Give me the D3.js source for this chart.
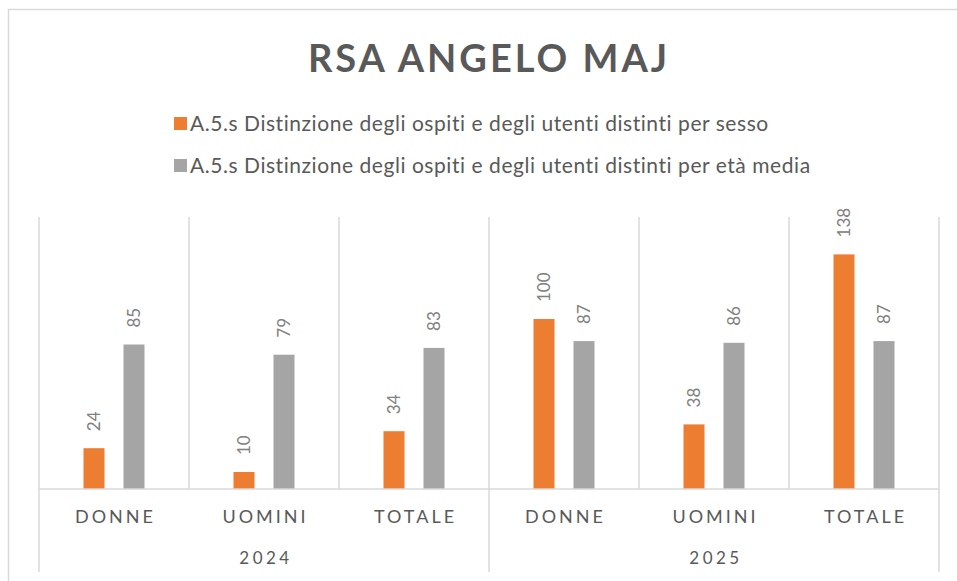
<!DOCTYPE html>
<html>
<head>
<meta charset="utf-8">
<script src="https://cdn.jsdelivr.net/npm/d3@7"></script>
<style>
  body { margin: 0; background: #fff; }
  svg { display: block; font-family: Lato, "Open Sans", sans-serif; }
</style>
</head>
<body>
<svg id="chart" width="957" height="581"></svg>
<script>
(() => {

    // chart data
    const years = ['2024', '2025'];
    const groups = ['DONNE', 'UOMINI', 'TOTALE'];
    const series = [
        'A.5.s Distinzione degli ospiti e degli utenti distinti per sesso',
        'A.5.s Distinzione degli ospiti e degli utenti distinti per età media'
    ];
    const sesso_values = [24, 10, 34, 100, 38, 138];
    const eta_values = [85, 79, 83, 87, 86, 87];
    const colors = ['#ED7D31', '#A5A5A5'];

    // layout
    const plot_left = 39;
    const plot_right = 939;
    const plot_top = 217;
    const plot_bottom = 489;
    const text_color = '#595959';
    const grid_color = '#D9D9D9';

    let svg = d3.select('#chart');

    // build rows
    let rows = [];
    years.forEach((y, yi) => {
        groups.forEach((g, gi) => {
            let i = yi * groups.length + gi;
            rows.push({ key: y + '-' + g, year: y, group: g, values: [sesso_values[i], eta_values[i]] });
        });
    });

    // outer frame
    svg.append('rect')
        .attr('x', 8.5).attr('y', 9.5)
        .attr('width', 960).attr('height', 600)
        .attr('fill', 'none')
        .attr('stroke', grid_color)
        .attr('stroke-width', 1.5);

    // title
    svg.append('text')
        .attr('x', 489)
        .attr('y', 72)
        .attr('text-anchor', 'middle')
        .style('font-size', '38px')
        .style('font-weight', 'bold')
        .style('letter-spacing', '3px')
        .style('fill', text_color)
        .text('RSA ANGELO MAJ');

    // legend
    let legend = svg.append('g');
    series.forEach((s, i) => {
        let ly = 131 + i * 42;
        legend.append('rect')
            .attr('x', 174).attr('y', ly - 14)
            .attr('width', 13).attr('height', 13)
            .attr('fill', colors[i]);
        legend.append('text')
            .attr('x', 190).attr('y', ly)
            .style('font-size', '21px')
            .style('letter-spacing', '0.55px')
            .style('fill', text_color)
            .text(s);
    });

    // scales
    let x0 = d3.scaleBand()
        .domain(rows.map((d) => d.key))
        .range([plot_left, plot_right])
        .padding(0);

    let x1 = d3.scaleBand()
        .domain([0, 1])
        .range([0, x0.bandwidth()])
        .paddingInner(0.475)
        .paddingOuter(1.1125);

    let y = d3.scaleLinear()
        .domain([0, 160])
        .range([plot_bottom, plot_top]);

    // vertical category lines
    let boundaries = rows.map((d) => x0(d.key)).concat([plot_right]);
    svg.append('g')
        .selectAll('line')
        .data(boundaries)
        .enter()
        .append('line')
        .attr('x1', (d) => d).attr('x2', (d) => d)
        .attr('y1', plot_top)
        .attr('y2', (d, i) => (i % groups.length == 0) ? 572 : plot_bottom)
        .attr('stroke', grid_color)
        .attr('stroke-width', 1.5);

    // bars
    let bar_groups = svg.append('g')
        .selectAll('g')
        .data(rows)
        .enter()
        .append('g')
        .attr('transform', (d) => `translate(${x0(d.key)},0)`);

    bar_groups.selectAll('rect')
        .data((d) => d.values.map((v, i) => ({ v: v, i: i })))
        .enter()
        .append('rect')
        .attr('x', (d) => x1(d.i))
        .attr('y', (d) => y(d.v))
        .attr('width', x1.bandwidth())
        .attr('height', (d) => y(0) - y(d.v))
        .attr('fill', (d) => colors[d.i]);

    // value labels (rotated)
    bar_groups.selectAll('text')
        .data((d) => d.values.map((v, i) => ({ v: v, i: i })))
        .enter()
        .append('text')
        .attr('transform', (d) => `translate(${x1(d.i) + x1.bandwidth() / 2 + 6},${y(d.v) - 17}) rotate(-90)`)
        .style('font-size', '17px')
        .style('fill', '#808080')
        .text((d) => d.v);

    // baseline
    svg.append('line')
        .attr('x1', plot_left).attr('x2', plot_right)
        .attr('y1', plot_bottom).attr('y2', plot_bottom)
        .attr('stroke', grid_color)
        .attr('stroke-width', 1.5);

    // category labels
    svg.append('g')
        .selectAll('text')
        .data(rows)
        .enter()
        .append('text')
        .attr('x', (d) => x0(d.key) + x0.bandwidth() / 2 + 1.5)
        .attr('y', 523)
        .attr('text-anchor', 'middle')
        .style('font-size', '18px')
        .style('letter-spacing', '3px')
        .style('fill', text_color)
        .text((d) => d.group);

    // year labels
    svg.append('g')
        .selectAll('text')
        .data(years)
        .enter()
        .append('text')
        .attr('x', (d) => {
            let keys = rows.filter((r) => r.year == d).map((r) => r.key);
            return (x0(keys[0]) + x0(keys[keys.length - 1]) + x0.bandwidth()) / 2 + 2;
        })
        .attr('y', 564)
        .attr('text-anchor', 'middle')
        .style('font-size', '17px')
        .style('letter-spacing', '3.5px')
        .style('fill', text_color)
        .text((d) => d);

})();
</script>
</body>
</html>
